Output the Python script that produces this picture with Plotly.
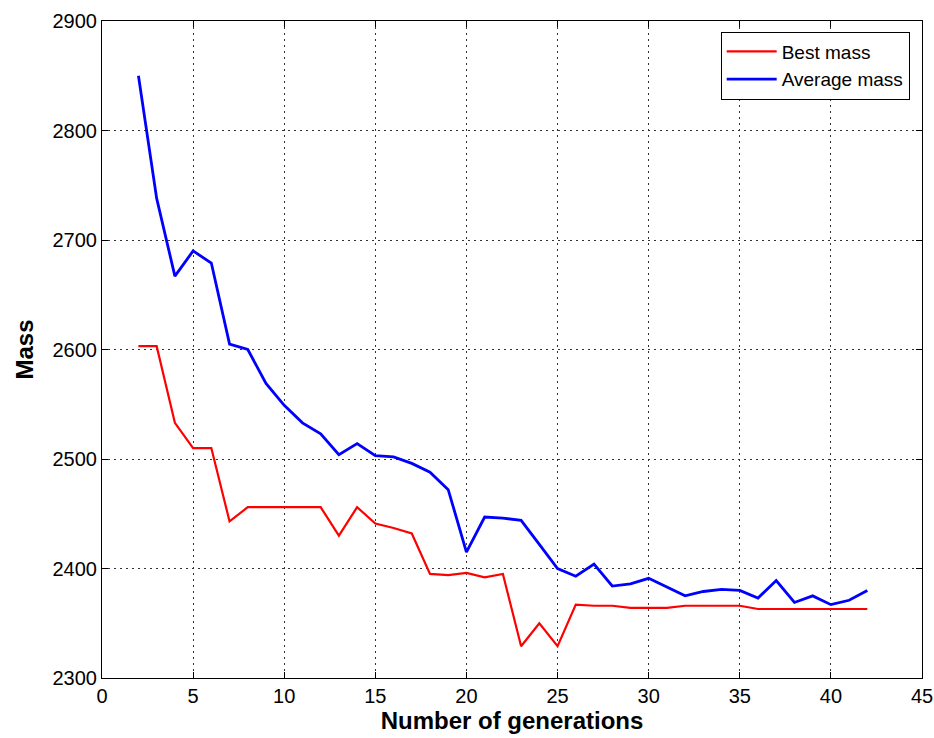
import plotly.graph_objects as go

generations = list(range(2, 43))
best_mass = [2603, 2603, 2533, 2510, 2510, 2443, 2456, 2456, 2456, 2456, 2456, 2430, 2456, 2441,
             2437, 2432, 2395, 2394, 2396, 2392, 2395, 2329, 2350, 2329, 2367, 2366, 2366, 2364,
             2364, 2364, 2366, 2366, 2366, 2366, 2363, 2363, 2363, 2363, 2363, 2363, 2363]
avg_mass = [2850, 2738, 2667, 2690, 2679, 2605, 2600, 2569, 2549, 2533, 2523, 2504, 2514, 2503,
            2502, 2496, 2488, 2472, 2415, 2447, 2446, 2444, 2422, 2400, 2393, 2404, 2384, 2386,
            2391, 2383, 2375, 2379, 2381, 2380, 2373, 2389, 2369, 2375, 2367, 2371, 2380]

x_ticks = [0, 5, 10, 15, 20, 25, 30, 35, 40, 45]
y_ticks = [2300, 2400, 2500, 2600, 2700, 2800, 2900]

FONT = "Liberation Sans, Arial, sans-serif"

fig = go.Figure()
fig.add_trace(go.Scatter(x=generations, y=best_mass, mode="lines", name="Best mass",
                         line=dict(color="#ff0000", width=2.2)))
fig.add_trace(go.Scatter(x=generations, y=avg_mass, mode="lines", name="Average mass",
                         line=dict(color="#0000ff", width=2.8)))

axis_common = dict(
    showline=True, linecolor="black", linewidth=1.2, mirror="allticks",
    ticks="inside", ticklen=6, tickcolor="black", tickwidth=1,
    showgrid=True, gridcolor="#333333", gridwidth=1, griddash="2px,4px",
    zeroline=False,
    tickfont=dict(family=FONT, size=20, color="black"),
)

fig.update_xaxes(range=[0, 45], tickvals=x_ticks, ticktext=[str(v) for v in x_ticks],
                 title=dict(text="<b>Number of generations</b>", standoff=3,
                            font=dict(family=FONT, size=24, color="black")),
                 **axis_common)
fig.update_yaxes(range=[2300, 2900], tickvals=y_ticks, ticktext=[str(v) for v in y_ticks],
                 title=dict(text="<b>Mass</b>", standoff=12,
                            font=dict(family=FONT, size=24, color="black")),
                 **axis_common)

fig.update_layout(
    width=934, height=738,
    margin=dict(l=102, r=12, t=21, b=60, autoexpand=False),
    paper_bgcolor="white", plot_bgcolor="white",
    showlegend=True,
    legend=dict(x=0.985, y=0.984, xanchor="right", yanchor="top",
                bgcolor="white", bordercolor="black", borderwidth=1,
                font=dict(family=FONT, size=19, color="black"),
                itemwidth=50, tracegroupgap=0),
)

fig.write_html(
    "out.html",
    config={"displayModeBar": False},
    post_script="document.body.style.margin='0';document.body.style.overflow='hidden';",
)
